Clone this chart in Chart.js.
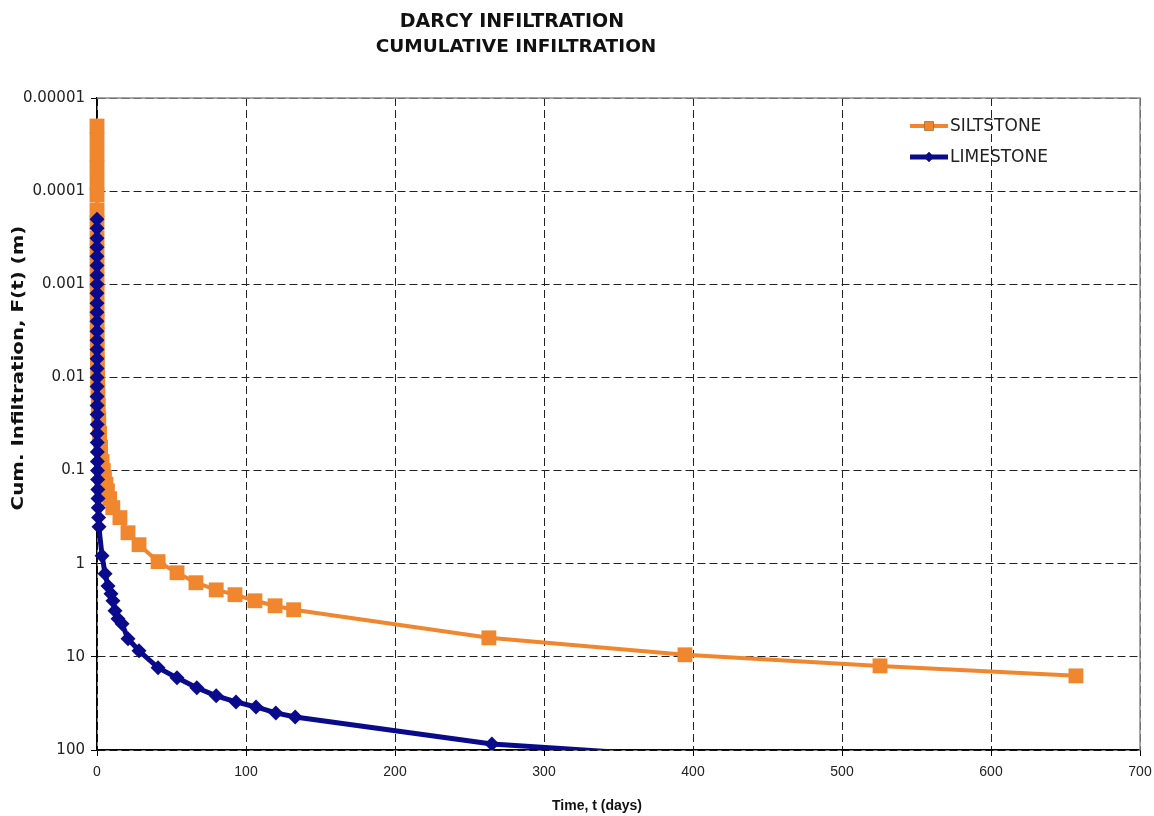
<!DOCTYPE html>
<html>
<head>
<meta charset="utf-8">
<script src="https://cdn.jsdelivr.net/npm/chart.js@4.4.0/dist/chart.umd.min.js"></script>
<style>
  html, body { margin: 0; padding: 0; background: #ffffff; }
  #wrap { width: 1154px; height: 816px; position: relative; }
</style>
</head>
<body>
<div id="wrap"><canvas id="c"></canvas></div>
<script>
// ---------- DATA ----------
const titleLines = ['DARCY INFILTRATION', 'CUMULATIVE INFILTRATION'];
const xAxisTitle = 'Time, t (days)';
const yAxisTitle = 'Cum. Infiltration, F(t) (m)';

const seriesNames = ['SILTSTONE', 'LIMESTONE'];

// Siltstone: time (days) and cumulative infiltration F(t) (m)
const siltTime = [0.00085, 0.0012, 0.0017, 0.0024, 0.0034, 0.0047, 0.0068, 0.0094, 0.0136, 0.019,
                  0.027, 0.038, 0.053, 0.077, 0.106, 0.149, 0.213, 0.298, 0.426, 0.6,
                  0.85, 1.19, 1.7, 2.38, 3.4, 4.26, 5.0, 6.0, 7.0, 8.5,
                  10.6, 15.4, 20.8, 28.2, 41, 53.7, 66.4, 80, 92.6, 106,
                  119.5, 132, 263, 394.6, 525.5, 657];
const siltF = [0.00002, 0.000028, 0.00004, 0.000056, 0.00008, 0.00011, 0.00016, 0.00022, 0.00032, 0.00045,
               0.00063, 0.0009, 0.00125, 0.0018, 0.0025, 0.0035, 0.005, 0.007, 0.01, 0.014,
               0.02, 0.028, 0.04, 0.056, 0.08, 0.1, 0.118, 0.14, 0.165, 0.2,
               0.25, 0.32, 0.465, 0.625, 0.95, 1.25, 1.6, 1.91, 2.15, 2.5,
               2.83, 3.12, 6.25, 9.5, 12.5, 16.0];

// Limestone: time (days) and cumulative infiltration F(t) (m)
const limeTime = [0.0007, 0.0008, 0.0011, 0.0013, 0.0017, 0.0021, 0.0027, 0.0033, 0.0042, 0.0053,
                  0.0067, 0.0083, 0.011, 0.013, 0.017, 0.021, 0.027, 0.033, 0.042, 0.053,
                  0.067, 0.083, 0.11, 0.13, 0.17, 0.21, 0.27, 0.33, 0.42, 0.53,
                  0.67, 0.83, 1.07, 1.33, 3.4, 5.4, 7.4, 9.4, 10.7, 12.1,
                  14.1, 16.8, 20.8, 28.2, 41, 53.7, 67, 80, 93.3, 106.7,
                  120, 133, 265, 395];
const limeF = [0.0002, 0.00025, 0.00032, 0.0004, 0.0005, 0.00063, 0.0008, 0.001, 0.00125, 0.0016,
               0.002, 0.0025, 0.0032, 0.004, 0.005, 0.0063, 0.008, 0.01, 0.0125, 0.016,
               0.02, 0.025, 0.032, 0.04, 0.05, 0.063, 0.08, 0.1, 0.125, 0.16,
               0.2, 0.25, 0.32, 0.4, 0.82, 1.28, 1.73, 2.1, 2.5, 3.2,
               3.9, 4.42, 6.4, 8.6, 13.1, 16.8, 21.5, 26.2, 30.5, 34.5,
               40.0, 44.2, 86, 118];

const xTickValues = [0, 100, 200, 300, 400, 500, 600, 700];
const xTickLabels = ['0', '100', '200', '300', '400', '500', '600', '700'];
const yTickValues = [0.00001, 0.0001, 0.001, 0.01, 0.1, 1, 10, 100];
const yTickLabels = ['0.00001', '0.0001', '0.001', '0.01', '0.1', '1', '10', '100'];

// ---------- STYLE ----------
const FONT = "'Liberation Sans', Arial, sans-serif";
const WIDE = "'DejaVu Sans', Verdana, sans-serif";
const ORANGE = '#F0872F';
const NAVY = '#0A0A8C';

const pts = (xs, ys) => xs.map((x, i) => ({ x: x, y: ys[i] }));

const frameAndText = {
  id: 'frameAndText',
  beforeDatasetsDraw(chart) {
    const { ctx, chartArea: a } = chart;
    ctx.save();
    ctx.strokeStyle = '#8a8a8a';
    ctx.lineWidth = 1.5;
    ctx.setLineDash([]);
    ctx.beginPath();
    ctx.moveTo(a.left, a.top);
    ctx.lineTo(a.right, a.top);
    ctx.lineTo(a.right, a.bottom);
    ctx.stroke();
    ctx.restore();
  },
  afterDraw(chart) {
    const { ctx } = chart;
    ctx.save();
    ctx.fillStyle = '#111';
    ctx.textAlign = 'center';
    ctx.textBaseline = 'middle';
    ctx.font = 'bold 19px ' + WIDE;
    ctx.fillText(titleLines[0], 512, 22);
    ctx.font = 'bold 18.5px ' + WIDE;
    ctx.fillText(titleLines[1], 516, 47);

    ctx.font = 'bold 14px ' + FONT;
    ctx.fillText(xAxisTitle, 597, 806);
    ctx.save();
    ctx.translate(19, 368);
    ctx.rotate(-Math.PI / 2);
    ctx.scale(1.24, 1);
    ctx.font = 'bold 16px ' + WIDE;
    ctx.fillText(yAxisTitle, 0, 0);
    ctx.restore();

    // legend
    const ds = chart.data.datasets;
    ds.forEach((d, i) => {
      const y = 126 + i * 31;
      ctx.strokeStyle = d.borderColor;
      ctx.lineWidth = d.borderWidth;
      ctx.beginPath();
      ctx.moveTo(910, y);
      ctx.lineTo(948, y);
      ctx.stroke();
      Chart.helpers.drawPoint(ctx, { pointStyle: d.pointStyle, radius: d.pointStyle === 'rect' ? 6.5 : 5, borderWidth: 0, rotation: 0 }, 929, y);
      ctx.fillStyle = d.backgroundColor;
      ctx.fill();
      ctx.fillStyle = '#222';
      ctx.textAlign = 'left';
      ctx.font = '17px ' + WIDE;
      ctx.fillText(d.label, 950, y + 1);
    });
    ctx.restore();
  }
};

new Chart(document.getElementById('c'), {
  type: 'line',
  data: {
    datasets: [
      {
        label: seriesNames[0],
        data: pts(siltTime, siltF),
        borderColor: ORANGE,
        backgroundColor: ORANGE,
        borderWidth: 4,
        pointStyle: 'rect',
        pointRadius: 10.5,
        pointHoverRadius: 10.5,
        pointBorderWidth: 0,
        pointBackgroundColor: ORANGE,
        tension: 0,
        order: 2,
        clip: { left: 20, top: 20, right: 20, bottom: 0 }
      },
      {
        label: seriesNames[1],
        data: pts(limeTime, limeF),
        borderColor: NAVY,
        backgroundColor: NAVY,
        borderWidth: 5,
        pointStyle: 'rectRot',
        pointRadius: 7.5,
        pointHoverRadius: 7.5,
        pointBorderWidth: 0,
        pointBackgroundColor: NAVY,
        tension: 0,
        order: 1,
        clip: { left: 20, top: 20, right: 20, bottom: 0 }
      }
    ]
  },
  options: {
    responsive: true,
    maintainAspectRatio: false,
    animation: false,
    layout: { padding: { top: 98, right: 14, left: 0, bottom: 0 } },
    plugins: {
      legend: { display: false },
      title: { display: false },
      tooltip: { enabled: false }
    },
    scales: {
      x: {
        type: 'linear',
        min: 0,
        max: 700,
        afterBuildTicks: s => { s.ticks = xTickValues.map(v => ({ value: v })); },
        afterFit: s => { s.height = 66; s.paddingLeft = 0; s.paddingRight = 0; },
        ticks: {
          font: { family: FONT, size: 14 },
          color: '#222',
          padding: 8,
          maxRotation: 0,
          autoSkip: false,
          callback: (v, i) => xTickLabels[i]
        },
        grid: { color: '#222', lineWidth: 1, tickLength: 6, tickColor: '#000', tickWidth: 1 },
        border: { display: true, color: '#000', width: 1.5, dash: [8, 4] }
      },
      y: {
        type: 'logarithmic',
        reverse: true,
        min: 0.00001,
        max: 100,
        afterBuildTicks: s => { s.ticks = yTickValues.map(v => ({ value: v, major: true })); },
        afterFit: s => { s.width = 97; s.paddingTop = 0; s.paddingBottom = 0; },
        ticks: {
          font: { family: WIDE, size: 15 },
          color: '#222',
          padding: 6,
          autoSkip: false,
          callback: (v, i) => yTickLabels[i]
        },
        grid: { color: '#222', lineWidth: 1, tickLength: 6, tickColor: '#000', tickWidth: 1 },
        border: { display: true, color: '#000', width: 1.5, dash: [8, 4] }
      }
    }
  },
  plugins: [frameAndText]
});
</script>
</body>
</html>
